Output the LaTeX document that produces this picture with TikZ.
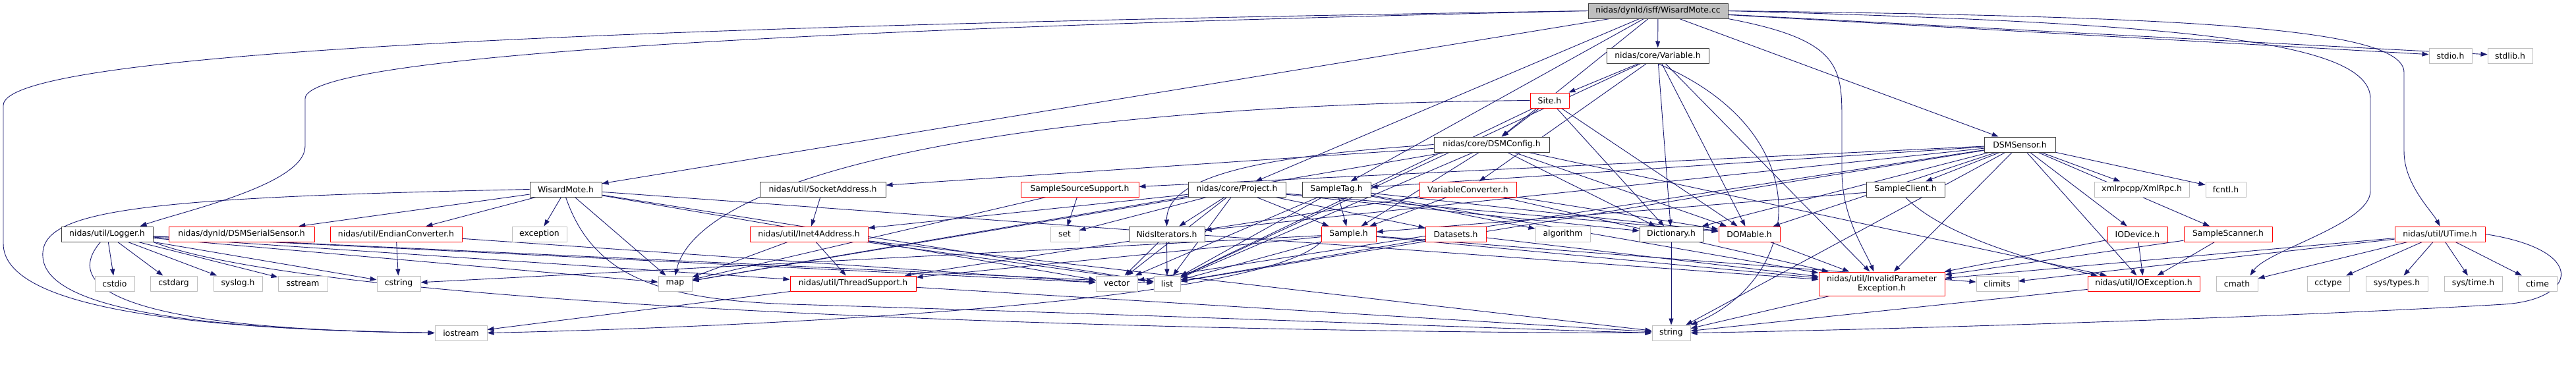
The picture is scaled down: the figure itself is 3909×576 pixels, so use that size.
\documentclass[tikz,border=0pt]{standalone}
\usepackage{fontspec}
\setmainfont{DejaVu Sans}
\usetikzlibrary{arrows.meta,backgrounds}
\definecolor{edgeblue}{HTML}{191970}
\definecolor{boxgray}{HTML}{BFBFBF}
\definecolor{boxline}{HTML}{404040}

\begin{document}
\begin{tikzpicture}[x=1pt, y=-1pt, font=\fontsize{12.4}{13.5}\selectfont, line join=round,
  >={Triangle[length=10pt,width=7pt]},
  box/.style={rectangle, inner sep=0pt, minimum height=23pt, line width=1pt, fill=white},
  hdr/.style={box, draw=boxline},
  trunc/.style={box, draw=red},
  ext/.style={box, draw=boxgray},
  root/.style={box, draw=boxline, fill=boxgray},
  wd/.style={minimum width=#1pt},
  dep/.style={->, draw=edgeblue, line width=0.9pt}]
\useasboundingbox (0,0) rectangle (3909,576);

% top rows
\node[root,wd=212] (cc) at (2516,16.5) {nidas/dynld/isff/WisardMote.cc};
\node[hdr,wd=155] (variable) at (2515.5,84.5) {nidas/core/Variable.h};
\node[ext,wd=65] (stdio) at (3718.5,84.5) {stdio.h};
\node[ext,wd=68] (stdlib) at (3809,84.5) {stdlib.h};
\node[trunc,wd=59] (site) at (2351.5,152.5) {Site.h};
\node[hdr,wd=175] (dsmconfig) at (2263.5,219.5) {nidas/core/DSMConfig.h};
\node[hdr,wd=108] (dsmsensor) at (3065,219.5) {DSMSensor.h};

% rank 4
\node[hdr,wd=109] (wmoteh) at (858.5,287.5) {WisardMote.h};
\node[hdr,wd=191] (sockaddr) at (1248.5,287.5) {nidas/util/SocketAddress.h};
\node[trunc,wd=179] (srcsupport) at (1638.5,287.5) {SampleSourceSupport.h};
\node[hdr,wd=148] (project) at (1877,287.5) {nidas/core/Project.h};
\node[hdr,wd=104] (sampletag) at (2028,287.5) {SampleTag.h};
\node[trunc,wd=147] (varconv) at (2227.5,287.5) {VariableConverter.h};
\node[hdr,wd=119] (sampleclient) at (2891.5,287.5) {SampleClient.h};
\node[ext,wd=144] (xmlrpc) at (3250,287.5) {xmlrpcpp/XmlRpc.h};
\node[ext,wd=61] (fcntl) at (3377.5,287.5) {fcntl.h};

% rank 5
\node[hdr,wd=139] (logger) at (162.5,355.5) {nidas/util/Logger.h};
\node[trunc,wd=221] (serialsensor) at (366.5,355.5) {nidas/dynld/DSMSerialSensor.h};
\node[trunc,wd=200] (endian) at (601,355.5) {nidas/util/EndianConverter.h};
\node[ext,wd=83] (exception) at (818.5,355.5) {exception};
\node[trunc,wd=179] (inetaddr) at (1227.5,355.5) {nidas/util/Inet4Address.h};
\node[ext,wd=43] (set) at (1615.5,355.5) {set};
\node[hdr,wd=115] (iterators) at (1770.5,355.5) {NidsIterators.h};
\node[trunc,wd=83] (sample) at (2046.5,355.5) {Sample.h};
\node[trunc,wd=92] (datasets) at (2209,355.5) {Datasets.h};
\node[ext,wd=83] (algorithm) at (2371.5,355.5) {algorithm};
\node[hdr,wd=96] (dictionary) at (2536,355.5) {Dictionary.h};
\node[trunc,wd=93] (domable) at (2654.5,355.5) {DOMable.h};
\node[trunc,wd=91] (iodevice) at (3243.5,355.5) {IODevice.h};
\node[trunc,wd=134] (scanner) at (3381,355.5) {SampleScanner.h};
\node[trunc,wd=137] (utime) at (3702.5,355.5) {nidas/util/UTime.h};

% rank 6
\node[ext,wd=60] (cstdio) at (174,430.5) {cstdio};
\node[ext,wd=71] (cstdarg) at (263.5,430.5) {cstdarg};
\node[ext,wd=74] (syslog) at (361,430.5) {syslog.h};
\node[ext,wd=75] (sstream) at (459.5,430.5) {sstream};
\node[ext,wd=66] (cstring) at (605,430.5) {cstring};
\node[ext,wd=51] (map) at (1024.5,430.5) {map};
\node[trunc,wd=191] (threadsupport) at (1294.5,430.5) {nidas/util/ThreadSupport.h};
\node[ext,wd=63] (vector) at (1694.5,430.5) {vector};
\node[ext,wd=40] (list) at (1771,430.5) {list};
\node[trunc,wd=191,minimum height=36pt,align=center] (invparam) at (2855.5,431)
  {nidas/util/InvalidParameter\\Exception.h};
\node[ext,wd=63] (climits) at (3030.5,430.5) {climits};
\node[trunc,wd=170] (ioexception) at (3253,430.5) {nidas/util/IOException.h};
\node[ext,wd=63] (cmath) at (3394.5,430.5) {cmath};
\node[ext,wd=64] (cctype) at (3533,430.5) {cctype};
\node[ext,wd=94] (systypes) at (3637,430.5) {sys/types.h};
\node[ext,wd=88] (systime) at (3753,430.5) {sys/time.h};
\node[ext,wd=59] (ctime) at (3850.5,430.5) {ctime};

% rank 7
\node[ext,wd=79] (iostream) at (699.5,505.5) {iostream};
\node[ext,wd=58] (string) at (2536,505.5) {string};

\begin{scope}[on background layer]
% straight includes
\foreach \t in {variable,stdio,stdlib,dsmsensor,wmoteh,project,sampletag,dsmconfig}
  \draw[dep] (cc) -- (\t);
\foreach \t in {site,varconv,dictionary,domable,invparam,list}
  \draw[dep] (variable) -- (\t);
\foreach \t in {dsmconfig,dictionary,domable,list}
  \draw[dep] (site) -- (\t);
\foreach \t in {sockaddr,sample,dictionary,domable,list,ioexception,map}
  \draw[dep] (dsmconfig) -- (\t);
\foreach \t in {srcsupport,sampletag,sampleclient,xmlrpc,fcntl,dictionary,domable,iterators,iodevice,scanner,invparam,ioexception,list,vector,string}
  \draw[dep] (dsmsensor) -- (\t);
\foreach \t in {sample,algorithm,domable,vector,list,invparam}
  \draw[dep] (sampletag) -- (\t);
\foreach \t in {set,inetaddr,iterators,list,vector,datasets,sample,dictionary,domable,map}
  \draw[dep] (project) -- (\t);
\foreach \t in {sample,domable,threadsupport,invparam}
  \draw[dep] (varconv) -- (\t);
\draw[dep] (sampleclient) -- (sample);
\foreach \t in {set,map}
  \draw[dep] (srcsupport) -- (\t);
\foreach \t in {serialsensor,endian,exception,map,vector,list,invparam}
  \draw[dep] (wmoteh) -- (\t);
\foreach \t in {cstdio,cstdarg,syslog,sstream,cstring,map,threadsupport,vector,list}
  \draw[dep] (logger) -- (\t);
\foreach \t in {cstring,vector}
  \draw[dep] (endian) -- (\t);
\foreach \t in {map,threadsupport,string,list}
  \draw[dep] (inetaddr) -- (\t);
\draw[dep] (sockaddr) -- (inetaddr);
\foreach \t in {vector,list}
  \draw[dep] (iterators) -- (\t);
\foreach \t in {threadsupport,climits,cstring,list,invparam}
  \draw[dep] (sample) -- (\t);
\foreach \t in {list,invparam}
  \draw[dep] (datasets) -- (\t);
\draw[dep] (domable) -- (invparam);
\draw[dep] (dictionary) -- (string);
\foreach \t in {ioexception,invparam}
  \draw[dep] (iodevice) -- (\t);
\foreach \t in {ioexception,invparam}
  \draw[dep] (scanner) -- (\t);
\foreach \t in {cctype,systypes,systime,ctime,cmath,climits,invparam}
  \draw[dep] (utime) -- (\t);
\draw[dep] (invparam) -- (string);
\draw[dep] (ioexception) -- (string);
\foreach \t in {iostream,string}
  \draw[dep] (threadsupport) -- (\t);

% long routed includes
\draw[dep] (cc.west) .. controls (900,40) and (5,80) .. (5,160) -- (5,370)
  .. controls (5,470) and (300,500) .. (iostream.west);
\draw[dep] (cc.west) .. controls (900,50) and (463,100) .. (463,150) -- (463,222)
  .. controls (463,280) and (280,320) .. ([xshift=50pt]logger.north);
\draw[dep] (cc.east) .. controls (3300,25) and (3648,40) .. (3648,110) -- (3648,230)
  .. controls (3648,280) and (3690,320) .. (utime.north);
\draw[dep] (cc.east) .. controls (3300,35) and (3597,60) .. (3597,150) -- (3597,290)
  .. controls (3597,340) and (3440,380) .. ([xshift=20pt]cmath.north);
\draw[dep] (cc.south east) .. controls (2790,60) and (2795,100) .. (2795,180) -- (2795,260)
  .. controls (2795,330) and (2830,380) .. ([xshift=-12pt]invparam.north);
\draw[dep] (utime.east) .. controls (3930,380) and (3910,455) .. (3800,462)
  .. controls (3500,480) and (2900,500) .. (string.east);
\draw[dep] ([xshift=-10pt]logger.south) .. controls (90,440) and (200,500) .. (iostream.west);
\draw[dep] (wmoteh.west) .. controls (200,300) and (60,320) .. (65,390)
  .. controls (70,470) and (300,500) .. (iostream.west);
\draw[dep] (wmoteh.south) .. controls (900,420) and (1000,455) .. (1200,462)
  .. controls (1800,480) and (2300,500) .. (string.west);
\draw[dep] (logger.south east) .. controls (500,470) and (1800,505) .. (string.west);
\draw[dep] (sample.south west) .. controls (1900,470) and (1000,500) .. (iostream.east);
\draw[dep] (variable.south) .. controls (2760,200) and (2740,420) .. (string.north east);
\draw[dep] (sampleclient.south) .. controls (2950,360) and (3100,400) .. ([xshift=-70pt]ioexception.north);
\draw[dep] (dsmconfig.west) .. controls (1950,235) and (1770,260) .. (iterators.north);
\draw[dep] (site.west) .. controls (1500,160) and (1060,270) .. (map.north);
\end{scope}
\end{tikzpicture}
\end{document}
